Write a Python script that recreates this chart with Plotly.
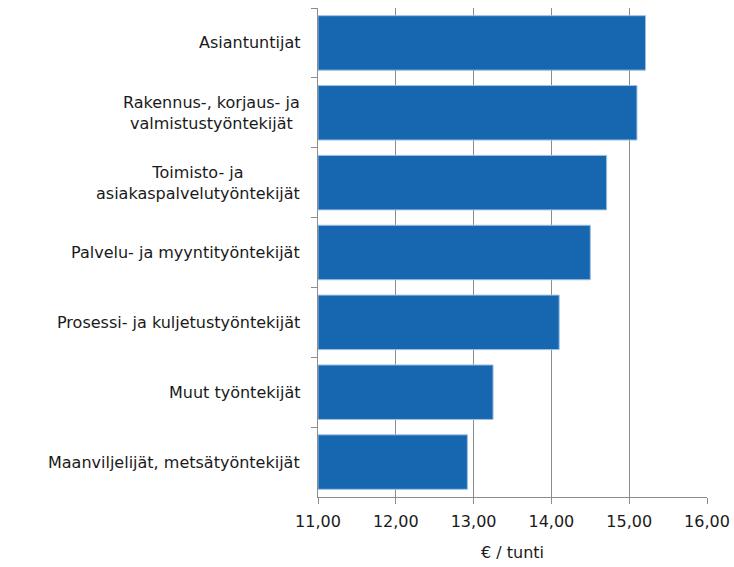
import plotly.graph_objects as go

categories = [
    "Asiantuntijat",
    "Rakennus-, korjaus- ja<br>valmistustyöntekijät",
    "Toimisto- ja<br>asiakaspalvelutyöntekijät",
    "Palvelu- ja myyntityöntekijät",
    "Prosessi- ja kuljetustyöntekijät",
    "Muut työntekijät",
    "Maanviljelijät, metsätyöntekijät",
]
values = [15.21, 15.10, 14.71, 14.50, 14.10, 13.25, 12.92]
x_title = "€ / tunti"

FONT = "DejaVu Sans"
GRID = "#8c8c8c"

fig = go.Figure()
fig.add_trace(go.Bar(
    y=categories,
    x=[v - 11 for v in values],
    base=11,
    orientation="h",
    marker=dict(color="#1767b0", line=dict(color="#9dc0e4", width=1)),
    hoverinfo="skip",
))

for c in categories:
    fig.add_annotation(
        x=0, xref="paper", y=c, yref="y",
        text=c, showarrow=False, xanchor="right", yanchor="middle",
        xshift=-16, align="center",
        font=dict(family=FONT, size=16, color="#1a1a1a"),
    )

fig.update_layout(
    width=734, height=567,
    margin=dict(l=318, r=27, t=8, b=70, autoexpand=False),
    paper_bgcolor="white", plot_bgcolor="white",
    separators=", ",
    bargap=0.22,
    showlegend=False,
    font=dict(family=FONT, size=16, color="#1a1a1a"),
    xaxis=dict(
        range=[11, 16], dtick=1, tick0=11, tickformat=".2f",
        showgrid=True, gridcolor=GRID, gridwidth=1,
        showline=True, linecolor=GRID, linewidth=1,
        ticks="outside", ticklen=6, tickcolor=GRID,
        ticklabelstandoff=4,
        zeroline=False,
        title=dict(text=x_title, font=dict(family=FONT, size=16), standoff=16),
    ),
    yaxis=dict(
        type="category", categoryorder="array", categoryarray=categories,
        autorange="reversed",
        tickson="boundaries", ticks="outside", ticklen=6, tickcolor=GRID,
        showline=True, linecolor=GRID, linewidth=1,
        showgrid=False, showticklabels=False,
    ),
)

fig.write_html(
    "out.html",
    config={"displayModeBar": False, "staticPlot": True},
    post_script="document.body.style.margin='0';document.body.style.overflow='hidden';",
)
